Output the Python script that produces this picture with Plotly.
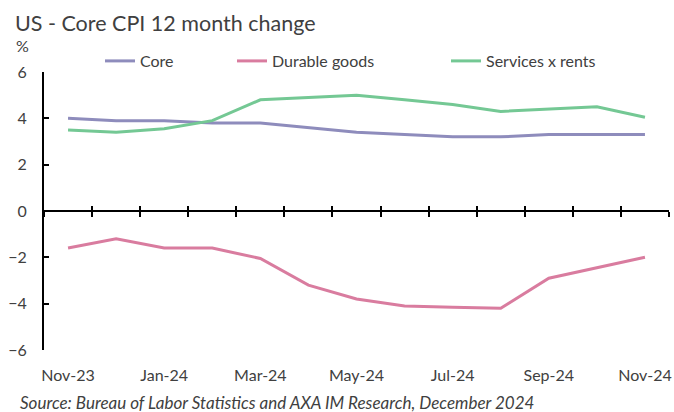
import plotly.graph_objects as go

months = ["Nov-23", "Dec-23", "Jan-24", "Feb-24", "Mar-24", "Apr-24", "May-24",
          "Jun-24", "Jul-24", "Aug-24", "Sep-24", "Oct-24", "Nov-24"]
core = [4.0, 3.9, 3.9, 3.8, 3.8, 3.6, 3.4, 3.3, 3.2, 3.2, 3.3, 3.3, 3.3]
durable = [-1.6, -1.2, -1.6, -1.6, -2.05, -3.2, -3.8, -4.1, -4.15, -4.2, -2.9, -2.45, -2.0]
services = [3.5, 3.4, 3.55, 3.9, 4.8, 4.9, 5.0, 4.8, 4.6, 4.3, 4.4, 4.5, 4.05]
y_ticks = [-6, -4, -2, 0, 2, 4, 6]

FONT = "Lato"
TXT = "#404040"
idx = list(range(len(months)))
bounds = [i - 0.5 for i in range(len(months) + 1)]

fig = go.Figure()
series = [("Core", core, "#8E8CBC", "legend"),
          ("Durable goods", durable, "#D97C9F", "legend2"),
          ("Services x rents", services, "#74C894", "legend3")]
for name, vals, col, lg in series:
    fig.add_trace(go.Scatter(x=idx, y=vals, mode="lines", name=name,
                             line=dict(color=col, width=3), legend=lg,
                             hoverinfo="skip"))
# invisible helper traces so the zero-line tick axes render
for ax in ["x2", "x3"]:
    fig.add_trace(go.Scatter(x=idx, y=core, xaxis=ax, yaxis="y", mode="lines",
                             line=dict(width=0), opacity=0, showlegend=False,
                             hoverinfo="skip"))

rng = [-0.5, len(months) - 0.5]
fig.update_layout(
    width=674, height=412,
    margin=dict(l=44, r=5, t=72, b=62, autoexpand=False),
    paper_bgcolor="white", plot_bgcolor="white",
    font=dict(family=FONT, color=TXT, size=16),
    title=dict(text="US - Core CPI 12 month change", x=15 / 674, xanchor="left",
               y=1 - 23 / 412, yanchor="middle", font=dict(size=21.5, color="#404040")),
    xaxis=dict(range=rng, tickvals=idx[::2], ticktext=months[::2],
               showline=False, showgrid=False, zeroline=False, ticks="",
               ticklabelstandoff=14, tickfont=dict(size=16, color=TXT),
               automargin=False),
    xaxis2=dict(range=rng, overlaying="x", anchor="free", position=0.5,
                tickvals=bounds, showticklabels=False, ticks="outside",
                ticklen=5, tickwidth=2, tickcolor="black",
                showline=True, linewidth=2, linecolor="black",
                showgrid=False, zeroline=False),
    xaxis3=dict(range=rng, overlaying="x", anchor="free", position=0.5,
                tickvals=bounds, showticklabels=False, ticks="inside",
                ticklen=5, tickwidth=2, tickcolor="black",
                showline=False, showgrid=False, zeroline=False),
    yaxis=dict(range=[-6, 6], tickvals=y_ticks, ticks="inside", ticklen=5,
               tickwidth=2, tickcolor="black", showline=True, linewidth=2,
               linecolor="black", showgrid=False, zeroline=False,
               ticklabelstandoff=12, tickfont=dict(size=16, color=TXT),
               automargin=False),
    showlegend=True,
)
leg_common = dict(orientation="h", xref="container", yref="container",
                  yanchor="middle", bgcolor="rgba(0,0,0,0)",
                  font=dict(size=16, color=TXT), itemwidth=30)
fig.update_layout(
    legend=dict(x=100 / 674, y=1 - 61 / 412, **leg_common),
    legend2=dict(x=232 / 674, y=1 - 61 / 412, **leg_common),
    legend3=dict(x=446 / 674, y=1 - 61 / 412, **leg_common),
)
fig.add_annotation(text="%", xref="paper", yref="paper", x=(22 - 44) / 625,
                   xanchor="center", y=1, yshift=27, yanchor="middle",
                   showarrow=False, font=dict(size=16, color=TXT))
fig.add_annotation(text="<i>Source: Bureau of Labor Statistics and AXA IM Research, December 2024</i>",
                   xref="paper", yref="paper", x=(18 - 44) / 625, xanchor="left",
                   y=0, yshift=-52, yanchor="middle", showarrow=False,
                   font=dict(size=17, color=TXT))
fig.write_html("out.html", config={"displayModeBar": False},
               post_script="document.body.style.margin='0px';document.body.style.overflow='hidden';")
